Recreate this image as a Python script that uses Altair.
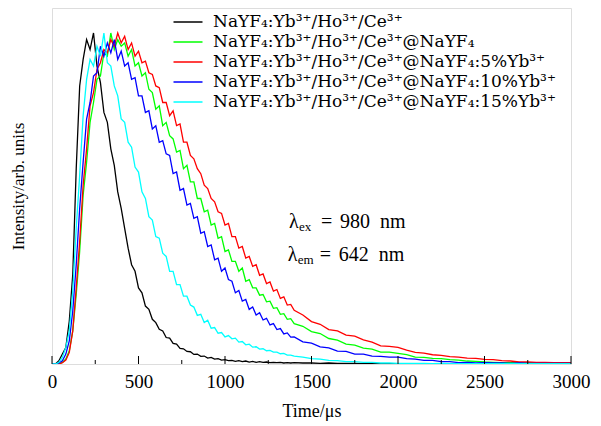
import altair as alt
import pandas as pd

# ---------------- data ----------------
T_FINE = list(range(0, 1401, 20))
T_TAIL = list(range(1450, 3001, 50))
TIME = T_FINE + T_TAIL

NAMES = [
    "NaYF₄:Yb³⁺/Ho³⁺/Ce³⁺",
    "NaYF₄:Yb³⁺/Ho³⁺/Ce³⁺@NaYF₄",
    "NaYF₄:Yb³⁺/Ho³⁺/Ce³⁺@NaYF₄:5%Yb³⁺",
    "NaYF₄:Yb³⁺/Ho³⁺/Ce³⁺@NaYF₄:10%Yb³⁺",
    "NaYF₄:Yb³⁺/Ho³⁺/Ce³⁺@NaYF₄:15%Yb³⁺",
]
COLORS = ["#000000", "#00ff00", "#ff0000", "#0000ff", "#00ffff"]

BLACK = [
    0.0, 0.0, 0.01, 0.03, 0.05, 0.13, 0.27, 0.59, 0.84, 0.92,
    0.98, 0.95, 1.0, 0.9, 0.85, 0.76, 0.73, 0.65, 0.6, 0.52,
    0.47, 0.41, 0.35, 0.30, 0.28, 0.23, 0.215, 0.175, 0.165, 0.135,
    0.125, 0.105, 0.10, 0.08, 0.078, 0.062, 0.06, 0.047, 0.046, 0.038,
    0.037, 0.029, 0.03, 0.023, 0.024, 0.018, 0.02, 0.015, 0.016, 0.012,
    0.013, 0.01, 0.011, 0.008, 0.01, 0.007, 0.009, 0.006, 0.008, 0.005,
    0.007, 0.005, 0.006, 0.004, 0.005, 0.004, 0.005, 0.003, 0.004, 0.003,
    0.004,
    0.003, 0.003, 0.002, 0.003, 0.002, 0.002, 0.002, 0.001, 0.002, 0.001,
    0.001, 0.001, 0.001, 0.001, 0.001, 0.001, 0.001, 0.001, 0.001, 0.001,
    0.001, 0.001, 0.001, 0.001, 0.001, 0.001, 0.001, 0.001, 0.001, 0.001,
    0.001, 0.001,
]

GREEN = [
    0.0, 0.0, 0.0, 0.005, 0.015, 0.04, 0.1, 0.21, 0.34, 0.51,
    0.61, 0.73, 0.79, 0.86, 0.87, 0.94, 0.93, 1.0, 0.95, 0.98,
    0.96, 0.97, 0.93, 0.95, 0.9, 0.91, 0.87, 0.88, 0.83, 0.82,
    0.77, 0.78, 0.72, 0.73, 0.69, 0.68, 0.64, 0.645, 0.59, 0.6,
    0.55, 0.55, 0.5, 0.5, 0.46, 0.465, 0.42, 0.425, 0.38, 0.385,
    0.34, 0.345, 0.31, 0.31, 0.28, 0.29, 0.25, 0.255, 0.23, 0.23,
    0.208, 0.21, 0.188, 0.19, 0.168, 0.17, 0.15, 0.152, 0.135, 0.137,
    0.122,
    0.114, 0.098, 0.092, 0.077, 0.072, 0.06, 0.057, 0.048, 0.045, 0.036,
    0.036, 0.032, 0.028, 0.021, 0.02, 0.017, 0.016, 0.013, 0.012, 0.009,
    0.008, 0.006, 0.005, 0.004, 0.004, 0.003, 0.004, 0.003, 0.003, 0.003,
    0.003, 0.003,
]

RED = [
    0.0, 0.0, 0.0, 0.004, 0.012, 0.035, 0.1, 0.23, 0.37, 0.54,
    0.65, 0.78, 0.82, 0.89, 0.91, 0.95, 0.94, 0.98, 0.96, 1.0,
    0.97, 0.99, 0.95, 0.97, 0.93, 0.945, 0.91, 0.915, 0.88, 0.875,
    0.84, 0.835, 0.79, 0.79, 0.75, 0.765, 0.72, 0.725, 0.67, 0.67,
    0.63, 0.62, 0.59, 0.575, 0.54, 0.53, 0.5, 0.49, 0.46, 0.455,
    0.42, 0.425, 0.385, 0.385, 0.35, 0.355, 0.32, 0.325, 0.295, 0.3,
    0.268, 0.272, 0.243, 0.248, 0.22, 0.225, 0.198, 0.203, 0.178, 0.18,
    0.162,
    0.148, 0.128, 0.12, 0.104, 0.1, 0.087, 0.084, 0.073, 0.066, 0.055,
    0.053, 0.05, 0.042, 0.035, 0.033, 0.028, 0.026, 0.022, 0.021, 0.018,
    0.017, 0.014, 0.013, 0.01, 0.009, 0.006, 0.006, 0.005, 0.005, 0.004,
    0.004, 0.004,
]

BLUE = [
    0.0, 0.0, 0.003, 0.01, 0.03, 0.07, 0.16, 0.3, 0.47, 0.61,
    0.74, 0.79, 0.87, 0.88, 0.96, 0.93, 0.97, 0.94, 0.98, 0.92,
    0.945, 0.9, 0.91, 0.86, 0.865, 0.81, 0.81, 0.76, 0.765, 0.71,
    0.72, 0.67, 0.675, 0.635, 0.63, 0.575, 0.58, 0.525, 0.53, 0.48,
    0.485, 0.44, 0.445, 0.395, 0.4, 0.355, 0.36, 0.315, 0.32, 0.28,
    0.29, 0.255, 0.25, 0.215, 0.222, 0.19, 0.195, 0.165, 0.172, 0.148,
    0.155, 0.133, 0.138, 0.118, 0.122, 0.104, 0.107, 0.091, 0.094, 0.081,
    0.082,
    0.067, 0.063, 0.052, 0.049, 0.039, 0.038, 0.03, 0.03, 0.024, 0.023,
    0.021, 0.021, 0.016, 0.015, 0.011, 0.011, 0.007, 0.007, 0.004, 0.005,
    0.003, 0.004, 0.003, 0.003, 0.002, 0.003, 0.002, 0.002, 0.002, 0.002,
    0.002, 0.002,
]

CYAN = [
    0.0, 0.0, 0.005, 0.02, 0.05, 0.1, 0.22, 0.41, 0.57, 0.75,
    0.86, 0.92, 0.9, 0.96, 0.93, 1.0, 0.91, 0.9, 0.84, 0.81,
    0.74, 0.73, 0.67, 0.655, 0.595, 0.58, 0.52, 0.5, 0.445, 0.435,
    0.385, 0.38, 0.335, 0.325, 0.28, 0.28, 0.24, 0.24, 0.205, 0.205,
    0.178, 0.172, 0.147, 0.15, 0.125, 0.132, 0.108, 0.11, 0.093, 0.095,
    0.082, 0.086, 0.076, 0.078, 0.066, 0.068, 0.058, 0.06, 0.051, 0.052,
    0.045, 0.046, 0.04, 0.041, 0.036, 0.036, 0.031, 0.032, 0.027, 0.027,
    0.024,
    0.021, 0.016, 0.015, 0.011, 0.01, 0.007, 0.007, 0.005, 0.005, 0.003,
    0.003, 0.002, 0.002, 0.002, 0.002, 0.001, 0.002, 0.001, 0.001, 0.001,
    0.001, 0.001, 0.001, 0.001, 0.001, 0.001, 0.001, 0.001, 0.001, 0.001,
    0.001, 0.001,
]

SERIES = [BLACK, GREEN, RED, BLUE, CYAN]

MAJOR_TICKS = [0, 500, 1000, 1500, 2000, 2500, 3000]
MINOR_TICKS = [250, 750, 1250, 1750, 2250, 2750]

ANNOT_T = [1370, 1362]
ANNOT_V = [0.411, 0.311]

# ---------------- build table ----------------
rows = []
for i, (name, vals) in enumerate(zip(NAMES, SERIES)):
    assert len(vals) == len(TIME), (name, len(vals), len(TIME))
    for t, v in zip(TIME, vals):
        rows.append({"series": name, "k": i, "t": t, "v": v})
df = pd.DataFrame(rows)

FONT = "Liberation Serif"
LFONT = "DejaVu Serif"
W, H = 519, 356
x_scale = alt.Scale(domain=[0, 3000], nice=False, zero=False)
y_scale = alt.Scale(domain=[0, 1.0755], nice=False, zero=False)

lines = alt.Chart(df).mark_line(strokeWidth=1.3, clip=True).encode(
    x=alt.X("t:Q", scale=x_scale,
            axis=alt.Axis(values=MAJOR_TICKS, ticks=False, domain=False, grid=False,
                          labelFlush=False, labelOverlap=False,
                          title="Time/μs", labelFont=FONT, labelFontSize=19,
                          labelColor="black", labelPadding=8, titleFont=FONT,
                          titleFontSize=18, titleFontWeight="normal",
                          titleColor="black", titlePadding=11, format="d")),
    y=alt.Y("v:Q", scale=y_scale,
            axis=alt.Axis(labels=False, ticks=False, domain=False, grid=False,
                          title="Intensity/arb. units", titleFont=FONT,
                          titleFontSize=17, titleFontWeight="normal",
                          titleColor="black", titlePadding=25)),
    color=alt.Color("series:N", sort=NAMES,
                    scale=alt.Scale(domain=NAMES, range=COLORS),
                    legend=alt.Legend(title=None, orient="none", legendX=125, legendY=3,
                                      symbolType="M-1.45,0H1.45", symbolSize=400,
                                      symbolStrokeWidth=1.5, labelFont=LFONT,
                                      labelFontSize=17, labelColor="black",
                                      labelLimit=0, labelOffset=14, rowPadding=1,
                                      padding=0)),
    detail="k:N",
)

tick_df_major = pd.DataFrame({"t": MAJOR_TICKS})
tick_df_minor = pd.DataFrame({"t": MINOR_TICKS})
major = alt.Chart(tick_df_major).mark_rule(color="black", strokeWidth=1).encode(
    x=alt.X("t:Q", scale=x_scale), y=alt.value(H), y2=alt.value(H - 8))
minor = alt.Chart(tick_df_minor).mark_rule(color="black", strokeWidth=1).encode(
    x=alt.X("t:Q", scale=x_scale), y=alt.value(H), y2=alt.value(H - 4))

ann_df = pd.DataFrame({"t": ANNOT_T, "v": ANNOT_V,
                       "sub": ["ex", "em"], "num": ["980", "642"]})

def txt(field_or_value, size, dx, dy=0):
    base = alt.Chart(ann_df).mark_text(align="left", baseline="alphabetic", font=FONT,
                                       fontSize=size, dx=dx, dy=dy, color="black")
    enc = dict(x=alt.X("t:Q", scale=x_scale), y=alt.Y("v:Q", scale=y_scale))
    if field_or_value.startswith("@"):
        enc["text"] = alt.Text(field_or_value[1:] + ":N")
    else:
        enc["text"] = alt.value(field_or_value)
    return base.encode(**enc)

ann = (txt("λ", 20, 0) + txt("@sub", 13, 10, 3) + txt("=", 20, 32)
       + txt("@num", 20, 51) + txt("nm", 20, 91))

chart = alt.layer(lines, major, minor, ann).properties(
    width=W, height=H,
    autosize=alt.AutoSizeParams(type="none"),
    padding={"left": 44, "top": 0, "right": 22, "bottom": 62},
).configure_view(stroke="black", strokeWidth=1.5).configure(background="white")

chart.save("out.html", embed_options={"renderer": "svg", "actions": False})
